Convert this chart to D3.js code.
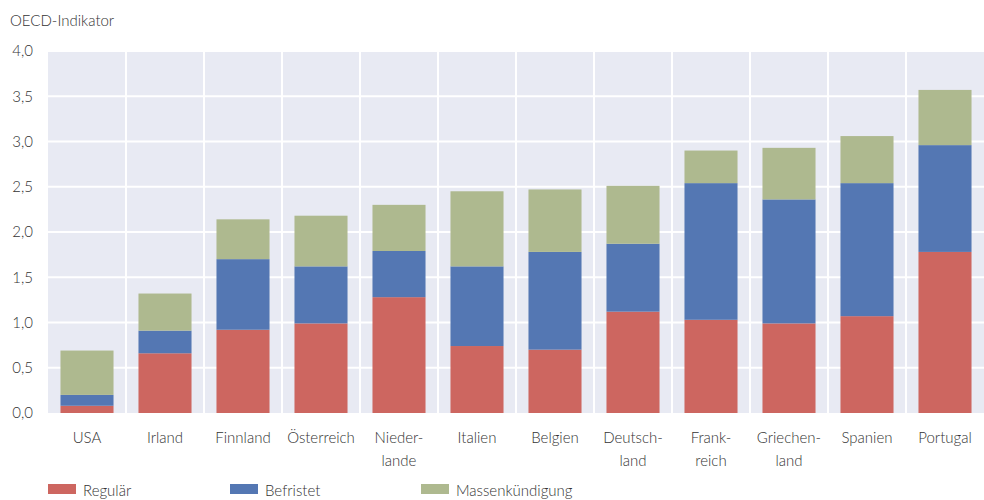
<!DOCTYPE html>
<html><head><meta charset="utf-8">
<script src="https://cdn.jsdelivr.net/npm/d3@7"></script>
<style>
body{margin:0;background:#fff;}
text{font-family:Lato,"Open Sans",sans-serif;font-weight:300;fill:#333;}
</style></head>
<body><svg id="c" width="984" height="500"></svg>
<script>
const categories = ["USA","Irland","Finnland","Österreich","Nieder-|lande","Italien","Belgien","Deutsch-|land","Frank-|reich","Griechen-|land","Spanien","Portugal"];
const seriesNames = ["Regulär","Befristet","Massenkündigung"];
const regular   = [0.08,0.66,0.92,0.99,1.28,0.74,0.70,1.12,1.03,0.99,1.07,1.78];
const temporary = [0.12,0.25,0.78,0.63,0.51,0.88,1.08,0.75,1.51,1.37,1.47,1.18];
const mass      = [0.49,0.41,0.44,0.56,0.51,0.83,0.69,0.64,0.36,0.57,0.52,0.61];
const yTicks = [0,0.5,1,1.5,2,2.5,3,3.5,4];
const colors = ["#cd6660","#5477b3","#aeb98f"];

const svg = d3.select("#c");
const L=48, R=984, T=51, B=413;
const x = d3.scaleBand().domain(categories).range([L,R]).paddingInner(0.32).paddingOuter(0.16);
const y = d3.scaleLinear().domain([0,4]).range([B,T]);

svg.append("rect").attr("x",L).attr("y",T).attr("width",R-L).attr("height",B-T).attr("fill","#e8eaf3");
svg.append("g").selectAll("line").data(yTicks.filter(d=>d>0)).join("line")
  .attr("x1",L).attr("x2",R).attr("y1",d=>y(d)).attr("y2",d=>y(d))
  .attr("stroke","#fff").attr("stroke-width",2);
const step = x.step();
svg.append("g").selectAll("line").data(categories.slice(1)).join("line")
  .attr("x1",d=>x(d)-x.paddingInner()*step/2).attr("x2",d=>x(d)-x.paddingInner()*step/2)
  .attr("y1",T).attr("y2",B).attr("stroke","#fff").attr("stroke-width",2);

const data = categories.map((c,i)=>({cat:c, Regulär:regular[i], Befristet:temporary[i], Massenkündigung:mass[i]}));
const stack = d3.stack().keys(seriesNames)(data);
svg.append("g").selectAll("g").data(stack).join("g").attr("fill",(d,i)=>colors[i])
  .selectAll("rect").data(d=>d).join("rect")
  .attr("x",d=>x(d.data.cat)).attr("width",x.bandwidth())
  .attr("y",d=>y(d[1])).attr("height",d=>y(d[0])-y(d[1]));

const yAxis = d3.axisLeft(y).tickValues(yTicks).tickSize(0).tickPadding(0)
  .tickFormat(d=>d3.format(".1f")(d).replace(".",","));
const ya = svg.append("g").attr("transform",`translate(33,0)`).call(yAxis);
ya.select(".domain").remove();
ya.selectAll("text").style("font-size","15px").style("font-family","Lato,sans-serif").style("font-weight","300").attr("fill","#333");

const xa = svg.append("g");
categories.forEach(c=>{
  const parts=c.split("|");
  const t = xa.append("text").attr("x",x(c)+x.bandwidth()/2).attr("y",443)
    .attr("text-anchor","middle").style("font-size","15px");
  parts.forEach((p,j)=>t.append("tspan").attr("x",x(c)+x.bandwidth()/2).attr("dy",j?23:0).text(p));
});

svg.append("text").attr("x",10).attr("y",26).style("font-size","15px").text("OECD-Indikator");

const legX=[48,230,421];
seriesNames.forEach((s,i)=>{
  svg.append("rect").attr("x",legX[i]).attr("y",484).attr("width",28).attr("height",10).attr("fill",colors[i]);
  svg.append("text").attr("x",legX[i]+35).attr("y",496).style("font-size","15px").text(s);
});
</script></body></html>
